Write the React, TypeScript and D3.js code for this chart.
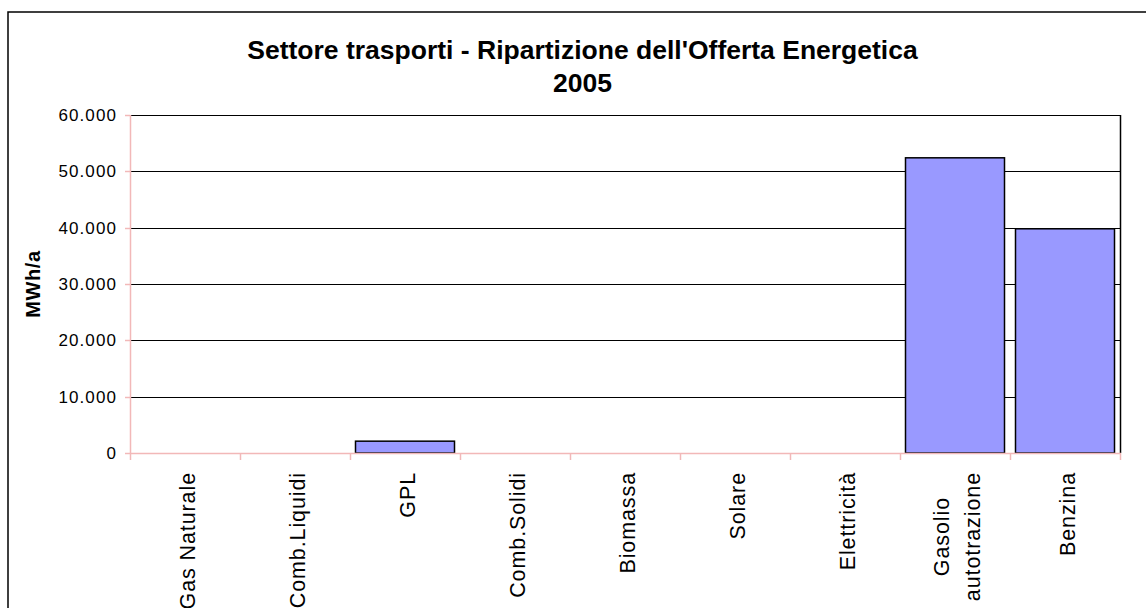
import React, { useEffect, useRef } from "react";
import * as d3 from "d3";

const categories: string[] = [
  "Gas Naturale",
  "Comb.Liquidi",
  "GPL",
  "Comb.Solidi",
  "Biomassa",
  "Solare",
  "Elettricità",
  "Gasolio\nautotrazione",
  "Benzina",
];
const values: number[] = [0, 0, 2100, 0, 0, 0, 0, 52400, 39800];
const yTicks: number[] = [0, 10000, 20000, 30000, 40000, 50000, 60000];
const titleLines: string[] = ["Settore trasporti - Ripartizione dell'Offerta Energetica", "2005"];
const yTitle = "MWh/a";

const W = 1146;
const H = 608;
const M = { left: 130, right: 1120, top: 115, bottom: 453 };
const PINK = "#f2b8b8";
const FONT = "'Liberation Sans', Arial, sans-serif";

export default function App() {
  const ref = useRef<SVGSVGElement | null>(null);

  useEffect(() => {
    const svg = d3.select(ref.current);
    svg.selectAll("*").remove();

    const loc = d3.formatLocale({ decimal: ",", thousands: ".", grouping: [3], currency: ["€", ""] });
    const fmt = loc.format(",d");

    const x = d3.scaleBand<string>().domain(categories).range([M.left, M.right]).padding(0);
    const y = d3.scaleLinear().domain([0, 60000]).range([M.bottom, M.top]);
    const cx = (v: number) => Math.round(v) + 0.5;

    svg.append("rect").attr("x", 0).attr("y", 0).attr("width", W).attr("height", H).attr("fill", "#fff");

    svg.append("path")
      .attr("d", `M8,${H + 5} L8,12 L${W + 5},12`)
      .attr("fill", "none").attr("stroke", "#000").attr("stroke-width", 1.5);

    const g = svg.append("g");
    yTicks.forEach((t) => {
      g.append("line")
        .attr("x1", M.left).attr("x2", M.right)
        .attr("y1", cx(y(t))).attr("y2", cx(y(t)))
        .attr("stroke", t === 0 ? "none" : "#000").attr("stroke-width", 1);
    });
    g.append("line")
      .attr("x1", cx(M.right)).attr("x2", cx(M.right))
      .attr("y1", M.top).attr("y2", M.bottom)
      .attr("stroke", "#000").attr("stroke-width", 1.5);

    const bw = x.bandwidth() * 0.9;
    svg.append("g").selectAll("rect")
      .data(categories.map((c, i) => ({ c, v: values[i] })).filter((d) => d.v > 0))
      .join("rect")
      .attr("x", (d) => (x(d.c) as number) + (x.bandwidth() - bw) / 2)
      .attr("y", (d) => y(d.v))
      .attr("width", bw)
      .attr("height", (d) => y(0) - y(d.v))
      .attr("fill", "#9999ff")
      .attr("stroke", "#000")
      .attr("stroke-width", 1.5);

    const ax = svg.append("g");
    ax.append("line").attr("x1", cx(M.left)).attr("x2", cx(M.left)).attr("y1", M.top).attr("y2", M.bottom + 1)
      .attr("stroke", PINK).attr("stroke-width", 1.5);
    ax.append("line").attr("x1", M.left).attr("x2", M.right + 1).attr("y1", cx(M.bottom)).attr("y2", cx(M.bottom))
      .attr("stroke", PINK).attr("stroke-width", 1.5);
    yTicks.forEach((t) => {
      ax.append("line").attr("x1", M.left - 5).attr("x2", M.left).attr("y1", cx(y(t))).attr("y2", cx(y(t)))
        .attr("stroke", PINK).attr("stroke-width", 1.5);
    });
    const bounds = categories.map((c) => x(c) as number).concat([M.right]);
    bounds.forEach((b) => {
      ax.append("line").attr("x1", cx(b)).attr("x2", cx(b)).attr("y1", M.bottom).attr("y2", M.bottom + 7)
        .attr("stroke", PINK).attr("stroke-width", 1.5);
    });

    yTicks.forEach((t) => {
      svg.append("text")
        .attr("x", 117).attr("y", y(t)).attr("dy", "0.36em")
        .attr("text-anchor", "end")
        .attr("font-family", FONT).attr("font-size", 17)
        .attr("letter-spacing", 1.1)
        .attr("fill", "#000")
        .text(fmt(t));
    });

    const lineGap = 31;
    categories.forEach((c) => {
      const lines = c.split("\n");
      const center = (x(c) as number) + x.bandwidth() / 2;
      const lg = svg.append("g");
      const texts = lines.map((ln, i) => {
        const off = (i - (lines.length - 1) / 2) * lineGap;
        return lg.append("text")
          .attr("font-family", FONT).attr("font-size", 21.5)
          .attr("letter-spacing", 0.9)
          .attr("text-anchor", "middle")
          .attr("fill", "#000")
          .attr("data-off", off)
          .text(ln);
      });
      const maxLen = d3.max(texts, (t) => (t.node() as SVGTextElement).getComputedTextLength()) || 0;
      const cy = 472 + maxLen / 2;
      texts.forEach((t) => {
        const off = +t.attr("data-off");
        const bx = center + off + 9.5;
        t.attr("transform", `translate(${bx},${cy}) rotate(-90)`);
      });
    });

    svg.append("text")
      .attr("transform", `translate(40,${(M.top + M.bottom) / 2}) rotate(-90)`)
      .attr("text-anchor", "middle")
      .attr("font-family", FONT).attr("font-size", 20).attr("font-weight", "bold")
      .attr("letter-spacing", 0.6)
      .attr("fill", "#000")
      .text(yTitle);

    titleLines.forEach((ln, i) => {
      svg.append("text")
        .attr("x", 582.5).attr("y", 59 + i * 33)
        .attr("text-anchor", "middle")
        .attr("font-family", FONT).attr("font-size", 26.5).attr("font-weight", "bold")
        .attr("fill", "#000")
        .text(ln);
    });
  }, []);

  return (
    <svg
      ref={ref}
      width={W}
      height={H}
      style={{ position: "absolute", left: 0, top: 0, display: "block" }}
    />
  );
}
